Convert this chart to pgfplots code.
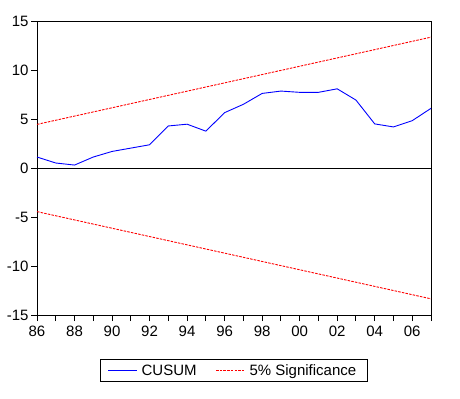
\documentclass[border=0pt]{standalone}
\usepackage{pgfplots}
\pgfplotsset{compat=1.18}
\usepackage{fontspec}
\setmainfont{Liberation Sans}
\begin{document}
\begin{tikzpicture}[x=1bp,y=1bp]
\useasboundingbox (0,0) rectangle (460,398);
\begin{axis}[
  at={(37bp,83bp)}, anchor=south west,
  scale only axis, width=394bp, height=294bp,
  xmin=1986, xmax=2007, ymin=-15, ymax=15,
  xtick={1986,...,2007},
  xticklabels={86,,88,,90,,92,,94,,96,,98,,00,,02,,04,,06,},
  ytick={-15,-10,-5,0,5,10,15},
  xtick pos=left, ytick pos=left,
  tick align=outside,
  major tick length=6bp,
  tick style={black, line width=0.9bp},
  axis line style={black, line width=0.9bp},
  /pgf/number format/assume math mode=true,
  tick label style={font=\fontsize{15bp}{18bp}\selectfont},
  xticklabel style={yshift=-1bp},
  yticklabel style={xshift=1bp},
  legend style={at={(0.5,-0.189)}, anchor=center, legend columns=2,
    font=\fontsize{15bp}{18bp}\selectfont, draw=black, line width=0.9bp,
    inner xsep=7bp, inner ysep=3bp,
    nodes={inner xsep=4bp},
    /tikz/every even column/.append style={column sep=15bp}},
  legend image code/.code={\draw[#1] (0bp,0bp) -- (29bp,0bp);},
  clip=false,
]
\addplot[blue, line width=0.9bp] coordinates {
(1986,1.12) (1987,0.51) (1988,0.30) (1989,1.12) (1990,1.69) (1991,2.03)
(1992,2.37) (1993,4.29) (1994,4.47) (1995,3.76) (1996,5.65) (1997,6.50)
(1998,7.61) (1999,7.85) (2000,7.72) (2001,7.72) (2002,8.08) (2003,6.93)
(2004,4.50) (2005,4.19) (2006,4.83) (2007,6.09)};
\addlegendentry{CUSUM}
\addplot[red, line width=0.9bp, dash pattern=on 2.5bp off 1.2bp] coordinates {
(1986,4.45) (2007,13.35)};
\addlegendentry{5\% Significance}
\addplot[red, line width=0.9bp, dash pattern=on 2.5bp off 1.2bp, forget plot] coordinates {
(1986,-4.45) (2007,-13.35)};
\addplot[black, line width=0.9bp, forget plot] coordinates {(1986,0) (2007,0)};
\end{axis}
\end{tikzpicture}
\end{document}
